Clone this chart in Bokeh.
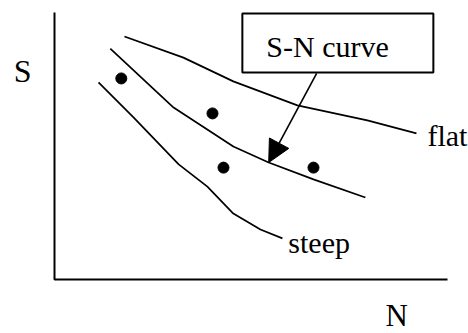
from bokeh.plotting import figure
from bokeh.models import Range1d, Arrow, NormalHead
from bokeh.core.properties import value
from bokeh.embed import file_html
from bokeh.resources import INLINE

# Schematic S-N diagram, axis units 0..10 on both axes
flat_n = [1.78, 3.28, 4.55, 6.18, 7.96, 9.21]
flat_s = [9.10, 8.31, 7.42, 6.52, 5.96, 5.47]

mid_n = [1.42, 3.03, 4.55, 5.45, 6.59, 7.91]
mid_s = [8.65, 6.44, 4.98, 4.38, 3.75, 3.07]

steep_n = [1.12, 2.01, 3.16, 3.89, 4.55, 5.24, 5.80]
steep_s = [7.38, 6.07, 4.31, 3.48, 2.47, 1.87, 1.54]

dot_n = [1.70, 4.02, 4.30, 6.59]
dot_s = [7.53, 6.22, 4.19, 4.19]

box_left, box_right, box_bottom, box_top = 4.78, 9.64, 7.75, 9.96
arrow_from = (6.67, 7.72)
arrow_to = (5.45, 4.38)

labels = ["S-N curve", "flat", "steep", "S", "N"]
label_n = [5.39, 9.49, 5.95, -1.04, 8.42]
label_s = [8.72, 5.39, 1.38, 7.79, -1.36]
label_size = ["30px", "30px", "30px", "32px", "31px"]

axis_n = [0, 0, 10]
axis_s = [10, 0, 0]

FONT = value("Liberation Serif")

p = figure(width=468, height=333, output_backend="svg", toolbar_location=None,
           x_range=Range1d(-1.374, 10.534), y_range=Range1d(-2.0225, 10.449),
           min_border=0, outline_line_color=None)
p.axis.visible = False
p.xgrid.visible = False
p.ygrid.visible = False
p.background_fill_color = "white"
p.border_fill_color = "white"

# axes lines
p.line(axis_n, axis_s, line_color="black", line_width=2)

# curves
p.line(flat_n, flat_s, line_color="black", line_width=1.7)
p.line(mid_n, mid_s, line_color="black", line_width=1.7)
p.line(steep_n, steep_s, line_color="black", line_width=1.7)

# data dots
p.scatter(dot_n, dot_s, size=11, color="black")

# label box
p.quad(left=[box_left], right=[box_right], bottom=[box_bottom], top=[box_top],
       fill_color="white", line_color="black", line_width=2)

p.add_layout(Arrow(end=NormalHead(size=22, fill_color="black", line_color="black"),
                   x_start=arrow_from[0], y_start=arrow_from[1],
                   x_end=arrow_to[0], y_end=arrow_to[1],
                   line_color="black", line_width=1.6))

for t, xn, ys, fs in zip(labels, label_n, label_s, label_size):
    p.text(x=[xn], y=[ys], text=[t], text_font=FONT, text_font_size=fs,
           text_baseline="alphabetic", text_align="left", text_color="black")

open("out.html", "w").write(file_html(p, INLINE))
